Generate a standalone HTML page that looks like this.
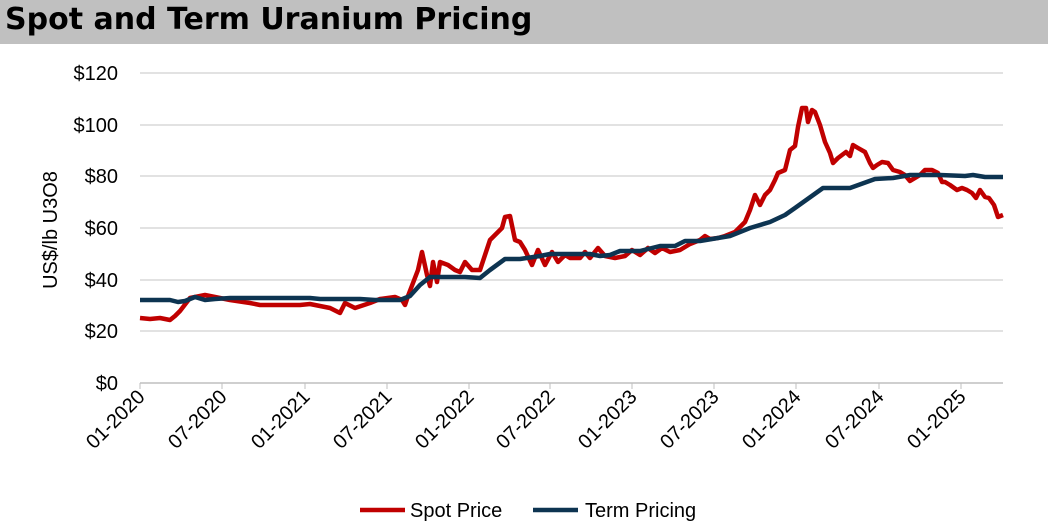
<!DOCTYPE html>
<html><head><meta charset="utf-8"><style>
body{margin:0;background:#fff;width:1048px;height:532px;overflow:hidden;font-family:"Liberation Sans",Arial,sans-serif}
.t{position:absolute;left:0;top:0;width:1048px;height:44px;background:#c0c0c0}
.t span{position:absolute;left:5px;top:2px;font-size:30px;font-weight:bold;color:#000;font-family:"DejaVu Sans","Liberation Sans",sans-serif}
</style></head><body>
<div class="t"><span>Spot and Term Uranium Pricing</span></div>
<svg width="1048" height="532" style="position:absolute;left:0;top:0" font-family="Liberation Sans,Arial,sans-serif">
<g stroke="#d9d9d9" stroke-width="1.5">
<line x1="140" x2="1003" y1="73" y2="73"/><line x1="140" x2="1003" y1="125" y2="125"/><line x1="140" x2="1003" y1="176" y2="176"/><line x1="140" x2="1003" y1="228" y2="228"/><line x1="140" x2="1003" y1="280" y2="280"/><line x1="140" x2="1003" y1="331" y2="331"/></g>
<line x1="140" x2="1003" y1="383" y2="383" stroke="#bfbfbf" stroke-width="1.5"/>
<g stroke="#bfbfbf"><line x1="140" x2="140" y1="383" y2="389"/><line x1="222" x2="222" y1="383" y2="389"/><line x1="305" x2="305" y1="383" y2="389"/><line x1="387" x2="387" y1="383" y2="389"/><line x1="469" x2="469" y1="383" y2="389"/><line x1="550" x2="550" y1="383" y2="389"/><line x1="632" x2="632" y1="383" y2="389"/><line x1="714" x2="714" y1="383" y2="389"/><line x1="796" x2="796" y1="383" y2="389"/><line x1="879" x2="879" y1="383" y2="389"/><line x1="961" x2="961" y1="383" y2="389"/></g>
<g font-size="20" fill="#000" text-anchor="end">
<text x="118" y="80">$120</text><text x="118" y="132">$100</text><text x="118" y="183">$80</text><text x="118" y="235">$60</text><text x="118" y="287">$40</text><text x="118" y="338">$20</text><text x="118" y="390">$0</text>
</g>
<text transform="translate(57,230) rotate(-90)" font-size="20" text-anchor="middle">US$/lb U3O8</text>
<g font-size="20" text-anchor="end">
<text transform="translate(146,398) rotate(-45)">01-2020</text><text transform="translate(228,398) rotate(-45)">07-2020</text><text transform="translate(311,398) rotate(-45)">01-2021</text><text transform="translate(393,398) rotate(-45)">07-2021</text><text transform="translate(475,398) rotate(-45)">01-2022</text><text transform="translate(556,398) rotate(-45)">07-2022</text><text transform="translate(638,398) rotate(-45)">01-2023</text><text transform="translate(720,398) rotate(-45)">07-2023</text><text transform="translate(802,398) rotate(-45)">01-2024</text><text transform="translate(885,398) rotate(-45)">07-2024</text><text transform="translate(967,398) rotate(-45)">01-2025</text>
</g>
<polyline fill="none" stroke="#c00000" stroke-width="4.5" stroke-linejoin="round" points="140,318 150,319 160,318 170,320 175,316 180,311 190,298 200,296 205,295 215,297 230,300 250,303 260,305 280,305 300,305 310,304 330,308 340,313 345,303 355,308 370,303 380,299 395,297 402,300 405,305 408,296 418,270 422,252 427,275 430,286 433,262 437,282 440,262 448,265 455,270 460,272 465,262 472,270 480,270 490,240 497,233 502,228 505,217 510,216 515,240 520,242 525,250 532,265 538,250 545,265 552,252 558,262 565,255 570,258 580,258 585,252 590,258 598,248 605,256 615,258 625,256 632,250 640,255 648,248 655,253 662,248 670,252 680,250 690,244 700,240 705,236 710,239 718,238 725,236 735,232 745,222 750,210 755,195 760,205 765,195 770,190 775,180 778,173 785,170 790,150 795,146 798,127 802,108 806,108 808,122 812,110 815,112 820,125 825,142 830,153 833,163 838,158 842,155 846,152 850,156 853,145 858,148 865,152 870,163 873,168 877,165 882,162 888,163 893,170 900,172 905,175 910,181 915,178 920,175 925,170 932,170 938,173 942,182 945,182 950,185 957,190 962,188 967,190 972,193 976,198 980,190 985,197 989,198 994,205 998,217 1003,215"/>
<polyline fill="none" stroke="#0d3451" stroke-width="4.5" stroke-linejoin="round" points="140,300 170,300 178,302 185,301 195,297 205,300 215,299 230,298 310,298 320,299 360,299 375,300 400,300 410,296 420,285 430,277 465,277 480,278 490,270 505,259 520,259 540,256 550,254 590,254 600,256 610,255 620,251 640,251 660,246 675,246 685,241 700,241 730,236 750,228 770,222 785,215 795,208 823,188 850,188 875,179 893,178 910,175 940,175 965,176 973,175 985,177 1003,177"/>
<line x1="360" x2="405" y1="510" y2="510" stroke="#c00000" stroke-width="4.5"/>
<text x="410" y="517" font-size="20">Spot Price</text>
<line x1="533" x2="578" y1="510" y2="510" stroke="#0d3451" stroke-width="4.5"/>
<text x="585" y="517" font-size="20">Term Pricing</text>
</svg>
</body></html>
